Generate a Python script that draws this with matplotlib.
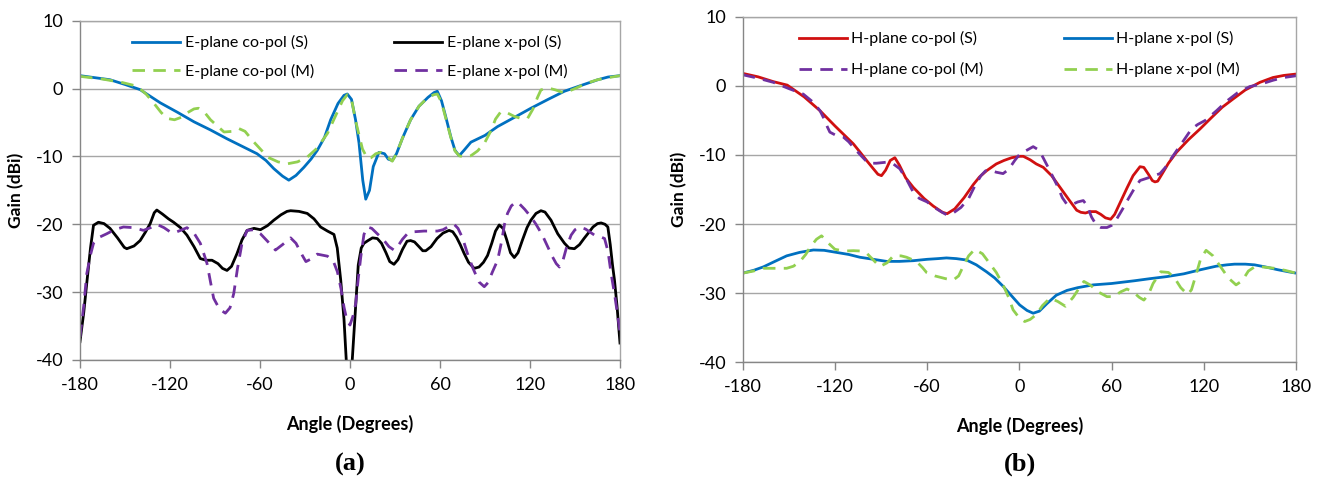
import numpy as np
import matplotlib
matplotlib.use("Agg")
import matplotlib.pyplot as plt

plt.rcParams['font.family'] = ['Lato', 'DejaVu Sans']
plt.rcParams['axes.unicode_minus'] = False

# ---- (a) E-plane ----
e_co_s_ang = [-180, -170, -160, -150, -140, -126.5, -115, -104, -93, -82, -72, -62, -56, -50.8, -45, -40.8, -36,
              -30.7, -26, -21.8, -17, -12.9, -8, -4, -1.8, 1, 3.7, 6, 8.5, 10.5, 13, 15.5, 19.3, 23, 25.5, 28.2,
              31, 35, 40.4, 46, 52, 56, 58.2, 61, 64, 67.2, 70, 72.8, 76, 80.6, 90, 98.4, 110, 120.6, 132, 142.9,
              152, 165.2, 172, 180]
e_co_s_gain = [1.9, 1.6, 1.3, 0.6, -0.15, -2.1, -3.5, -4.9, -6.1, -7.4, -8.5, -9.6, -10.6, -11.8, -12.9, -13.5,
               -12.8, -11.6, -10.4, -9.1, -7.2, -4.6, -2.2, -1.0, -0.8, -1.6, -4.6, -8, -13.5, -16.3, -15, -11.5,
               -9.4, -9.6, -10.4, -10.6, -9.6, -7.3, -4.6, -2.6, -1.3, -0.6, -0.4, -1.8, -4.3, -7.1, -9.1, -9.9,
               -9.1, -7.9, -6.9, -5.6, -4.2, -2.9, -1.6, -0.4, 0.3, 1.3, 1.7, 1.9]

e_co_m_ang = [-180, -165, -152, -142, -136, -131, -126, -122, -117, -112, -108.7, -104, -101, -97, -93, -88, -84,
              -78, -74, -70, -64, -59, -55, -48, -42, -35, -28.5, -22, -15, -10, -5, -1.8, 1, 4, 8.3, 11.6, 14,
              17.2, 20.4, 24, 28.2, 31, 35, 40.4, 46, 52, 56, 58.2, 61, 64, 67.2, 70, 72.8, 76, 80.6, 85, 89.5,
              94, 97, 100.6, 105, 109.5, 114, 118.4, 122, 125, 127.3, 131.8, 137, 142.9, 150, 158, 165, 172, 180]
e_co_m_gain = [1.8, 1.4, 0.9, 0.35, -0.8, -2.1, -3.5, -4.4, -4.6, -4.2, -3.6, -3.0, -2.9, -3.5, -4.6, -5.6, -6.4,
               -6.3, -5.9, -6.3, -7.9, -9.1, -10.1, -10.8, -11.1, -10.8, -10.1, -8.8, -6.6, -4.2, -1.8, -0.9, -1.6,
               -5, -8.9, -10.3, -10.2, -9.6, -9.4, -9.9, -10.7, -9.6, -7.3, -4.6, -2.6, -1.3, -0.9, -0.8, -2, -4.5,
               -7.2, -9.2, -9.9, -10.1, -9.9, -9.2, -8.1, -6.2, -4.5, -3.4, -3.6, -4.1, -4.4, -4.4, -3, -1.3, -0.2,
               0.1, -0.2, -0.65, 0, 0.8, 1.3, 1.6, 1.9]

e_x_s_ang = [-180, -177.5, -175.5, -173, -171, -167.7, -164, -160, -155, -150.5, -148.8, -144, -139.9, -136.5,
             -133.2, -130.5, -128.8, -125, -121, -117.6, -113, -108.7, -104, -99.8, -96, -92, -88, -85, -82, -79,
             -75.3, -72, -68.6, -64, -59.7, -55, -50.8, -46, -42, -39.6, -34, -28.5, -24, -19.6, -15, -10.7, -8.5,
             -6.2, -4, -2.5, -1, 0.5, 1.5, 3.5, 5.5, 7.5, 9.3, 12, 15, 18.2, 21, 24, 26.5, 29.3, 32, 35, 38, 40.4,
             43, 46, 48.5, 50.5, 54, 58, 62, 66, 68.5, 71, 73.5, 76.1, 79, 82.8, 86, 89, 91.7, 94.5, 97, 99.5, 102,
             104.5, 107, 109.5, 112, 115, 118, 120.6, 124, 127.3, 130, 134, 138.5, 143, 146, 149.6, 153, 156,
             158.5, 162, 165, 167.4, 170, 171.9, 173.5, 175, 176.3, 178, 180]
e_x_s_gain = [-37.3, -33, -28.7, -23.5, -20.15, -19.7, -19.9, -20.6, -22, -23.4, -23.6, -23.2, -22.4, -21.2,
              -19.9, -18.3, -17.9, -18.5, -19.2, -19.7, -20.5, -21.6, -23.3, -25.05, -25.3, -25.3, -25.8, -26.5,
              -26.8, -26.2, -24.3, -22.3, -20.9, -20.6, -20.8, -20.2, -19.4, -18.6, -18.1, -18, -18.1, -18.4,
              -19.2, -20.4, -21, -21.5, -23.5, -28.2, -34, -40, -43, -43, -40, -33, -26, -23.5, -22.8, -22.4, -22.0,
              -22.1, -22.8, -24.2, -25.5, -25.9, -25.2, -23.7, -22.5, -22.4, -22.6, -23.3, -23.9, -23.9, -23.3,
              -22.1, -21.3, -20.9, -21.1, -21.9, -23, -24.3, -25.6, -26.5, -26.3, -25.6, -24.6, -22.8, -21, -20.1,
              -20.6, -22.3, -24.2, -24.9, -24.2, -22.3, -20.5, -19.4, -18.4, -18, -18.2, -19.4, -21.4, -22.8,
              -23.5, -23.6, -23, -22.1, -21.4, -20.4, -19.9, -19.8, -20, -20.4, -23, -26, -28.2, -32, -37.5]

e_x_m_ang = [-180, -177.5, -175.5, -173, -171, -167, -162.2, -157, -151, -144, -137.7, -133, -128.8, -124, -120,
             -117.6, -113, -108.7, -104, -99.8, -97.5, -95.3, -93, -90.9, -87, -83.1, -80, -77.5, -75, -72, -68.6,
             -64, -59.7, -55, -49.7, -45, -39.6, -36, -32, -29.4, -25, -21.8, -15, -11, -8.4, -6, -4, -2, 0, 2,
             3.8, 5.5, 7.2, 9.3, 11.6, 14.5, 18.2, 22, 26, 29.3, 32, 35, 38.2, 43, 49.3, 54, 58.2, 62, 66, 69.4,
             72, 75, 78.3, 82, 86, 89.5, 92, 95, 98.4, 101, 103, 105, 107.5, 110.6, 113, 116.5, 120.6, 124, 128,
             131.8, 135, 137.5, 139.6, 142, 144.5, 147.4, 150, 153, 157, 163, 166.5, 169.7, 172, 174.1, 176.5,
             178.5, 180]
e_x_m_gain = [-36.6, -32, -27.3, -24.5, -22.8, -21.9, -21.4, -20.8, -20.4, -20.5, -20.9, -20.5, -20, -20.5, -21.1,
              -21.3, -20.9, -20.5, -21.3, -22.8, -24.3, -25.8, -28.5, -30.9, -32.5, -33.1, -32.3, -30.2, -26.5,
              -22.8, -20.9, -20.8, -21.4, -22.5, -23.8, -23, -22, -22.8, -24.5, -25.5, -25, -24.4, -24.7, -25.5,
              -27, -29.5, -32.2, -34.2, -34.85, -33.5, -31.7, -28, -24.8, -21.5, -20.4, -20.6, -21.4, -22.2, -23.3,
              -23.8, -23.2, -22.2, -21.4, -21.1, -21, -21, -21, -20.8, -20.3, -20, -20.6, -22, -24.3, -26.5, -28.5,
              -29.2, -28.6, -27, -25.3, -22.6, -20, -18.4, -17.3, -16.7, -17, -17.8, -18.9, -20, -21.5, -23.3,
              -24.8, -25.8, -26.3, -25.3, -23.3, -21.6, -20.8, -20.4, -20.7, -21.6, -21.8, -22.1, -24, -27.3,
              -30.5, -33.5, -36]

# ---- (b) H-plane ----
h_co_s_ang = [-180, -170, -160, -151, -140, -129.7, -120, -108, -104, -99.4, -95, -92, -89.7, -87, -84, -81, -78,
              -74, -69, -62, -56, -50, -47, -42, -36, -30, -26, -21.4, -15, -10, -5, 0.2, 2.6, 7, 11, 15.6, 21,
              26.5, 32, 37.3, 40, 43, 46, 49.8, 53, 56, 59.4, 62, 66, 70, 74, 78.5, 81, 84, 86.5, 88.2, 90, 93, 97,
              102.3, 110, 117.5, 125, 132, 139.1, 147, 156.5, 165, 172, 180]
h_co_s_gain = [1.8, 1.3, 0.6, 0.1, -1.6, -3.6, -5.8, -8.4, -9.5, -10.8, -12, -12.8, -13, -12.2, -10.8, -10.4,
               -11.5, -13.3, -14.7, -16.3, -17.4, -18.3, -18.5, -17.8, -16.2, -14.3, -13.2, -12.3, -11.3, -10.8,
               -10.4, -10.2, -10.2, -10.7, -11.3, -11.8, -13, -14.7, -16.4, -18, -18.3, -18.4, -18.2, -18.2, -18.6,
               -19.1, -19.3, -18.6, -16.7, -14.8, -13, -11.7, -11.8, -12.8, -13.7, -13.9, -13.8, -12.7, -11.2,
               -9.6, -7.8, -6.25, -4.6, -3.1, -1.9, -0.6, 0.5, 1.2, 1.5, 1.7]

h_co_m_ang = [-180, -170, -160, -150, -140.6, -134, -129.7, -127, -125, -123.3, -119, -114.6, -111, -108, -103,
              -98.3, -93, -86.4, -82, -77.8, -73, -69, -65, -60, -56, -51, -47, -43, -38, -33, -29, -25, -22, -19.3,
              -15, -10.6, -7, -3, 0.2, 5, 9, 12, 15, 19.9, 25, 28, 30.8, 34, 38, 41.6, 44, 47, 50, 53, 57, 60, 63,
              67, 71, 75, 78.5, 84, 91.5, 95, 100.1, 106, 112, 116, 121, 128.3, 135, 142, 150, 156.5, 165, 172, 180]
h_co_m_gain = [1.6, 1.1, 0.5, -0.4, -1.2, -2.4, -3.6, -4.8, -5.9, -6.7, -7.2, -7.4, -8.1, -8.9, -10.1, -11.2,
               -11.2, -11.05, -11.3, -12, -13.7, -15.4, -16.3, -16.8, -17.5, -18.2, -18.7, -18.4, -17.6, -16.3,
               -14.5, -13, -12.3, -12.2, -12.5, -12.7, -12.1, -10.8, -9.9, -9.3, -8.8, -9.2, -10.2, -12.3, -14.6,
               -16.2, -17.1, -17.2, -16.8, -16.6, -17.3, -19, -20.1, -20.5, -20.5, -20.2, -19.4, -17.9, -16.3,
               -14.8, -13.7, -13.3, -12.7, -11.8, -10.1, -8.2, -6.25, -5.6, -5.0, -3.6, -2.2, -1, -0.1, 0.2, 0.8,
               1.2, 1.45]

h_x_s_ang = [-180, -173, -166.6, -160, -151.4, -143, -134, -127, -119, -111, -103.8, -95, -86.4, -78, -69, -60,
             -53, -47.4, -41, -34.4, -28, -21.4, -16, -10.6, -5, 0.2, 5, 9, 13, 18, 24, 31, 38, 48, 60, 75, 85, 96,
             107, 118, 128, 135, 140, 147, 153, 160, 168, 175, 180]
h_x_s_gain = [-27.1, -26.7, -26.2, -25.5, -24.6, -24.1, -23.75, -23.8, -24.1, -24.4, -24.8, -25.1, -25.4, -25.4,
              -25.3, -25.1, -25, -24.9, -25, -25.2, -25.9, -26.9, -27.8, -29.0, -30.4, -31.7, -32.5, -32.9, -32.6,
              -31.5, -30.3, -29.6, -29.2, -28.8, -28.6, -28.2, -27.9, -27.6, -27.2, -26.6, -26.1, -25.9, -25.8,
              -25.8, -25.9, -26.2, -26.6, -26.9, -27.1]

h_x_m_ang = [-180, -173, -166.6, -160, -151.4, -147, -142.7, -139, -136, -132, -128.7, -125, -120, -114, -108,
             -103, -99.4, -95, -90.8, -86, -82, -77, -73.4, -67, -63, -60.4, -55, -48, -43, -39.5, -36.6, -33, -29,
             -24, -19.3, -15, -10.6, -7, -4.1, 0, 3.5, 7, 11, 15, 20, 25, 30, 35, 40, 42, 46, 52, 57, 61.5, 66, 70,
             74, 78, 81, 84, 87, 92, 97, 101, 105, 109.5, 112, 115, 118, 121.5, 126, 131, 136, 141, 145, 149, 153,
             158, 166, 173, 180]
h_x_m_gain = [-27.1, -26.8, -26.4, -26.4, -26.4, -26.1, -25.4, -24.4, -23.3, -22.2, -21.7, -22.6, -23.65, -23.9,
              -23.85, -23.9, -24.2, -25.2, -26.15, -25.6, -24.6, -24.6, -24.8, -25.4, -26.3, -27, -27.5, -27.9,
              -28.1, -27.5, -26.15, -24.6, -23.65, -24.3, -25.7, -27, -28.8, -30.6, -32.4, -33.6, -34.1, -33.8,
              -33.1, -31.8, -30.7, -31.2, -31.9, -30.6, -28.9, -28.3, -28.8, -29.9, -30.5, -30.5, -29.8, -29.4,
              -29.8, -30.6, -31, -30.2, -28.6, -26.9, -27, -27.8, -29.2, -30.2, -29.5, -27.3, -25, -23.8, -24.6,
              -26.2, -27.8, -28.8, -28.2, -26.8, -26.2, -26.2, -26.4, -26.7, -27.1]

blue = '#0070C0'
green = '#92D050'
purple = '#7030A0'
red = '#D01010'
lw = 2.0
dash = (0, (4.5, 3))

fig = plt.figure(figsize=(13.2, 4.8), dpi=100)
ax1 = fig.add_axes([80 / 1320, 1 - 360 / 480, 540 / 1320, 339.3 / 480])
ax2 = fig.add_axes([742.7 / 1320, 1 - 362.3 / 480, 553.3 / 1320, 345.6 / 480])

a1, = ax1.plot(e_co_s_ang, e_co_s_gain, color=blue, lw=lw, label='E-plane co-pol (S)')
a3, = ax1.plot(e_x_s_ang, e_x_s_gain, color='black', lw=lw, label='E-plane x-pol (S)')
a2, = ax1.plot(e_co_m_ang, e_co_m_gain, color=green, lw=lw, ls=dash, label='E-plane co-pol (M)')
a4, = ax1.plot(e_x_m_ang, e_x_m_gain, color=purple, lw=lw, ls=dash, label='E-plane x-pol (M)')

b1, = ax2.plot(h_co_s_ang, h_co_s_gain, color=red, lw=lw, label='H-plane co-pol (S)')
b3, = ax2.plot(h_x_s_ang, h_x_s_gain, color=blue, lw=lw, label='H-plane x-pol (S)')
b2, = ax2.plot(h_co_m_ang, h_co_m_gain, color=purple, lw=lw, ls=dash, label='H-plane co-pol (M)')
b4, = ax2.plot(h_x_m_ang, h_x_m_gain, color=green, lw=lw, ls=dash, label='H-plane x-pol (M)')

for ax, handles, lsp in [(ax1, [a1, a2, a3, a4], 0.85), (ax2, [b1, b2, b3, b4], 1.0)]:
    ax.set_xlim(-180, 180)
    ax.set_ylim(-40, 10)
    ax.set_xticks(np.arange(-180, 181, 60))
    ax.set_yticks(np.arange(-40, 11, 10))
    ax.grid(True, axis='y', color='#A6A6A6', lw=1.0)
    ax.set_axisbelow(True)
    for s in ax.spines.values():
        s.set_color('#A6A6A6')
        s.set_linewidth(1.0)
    ax.spines['left'].set_color('#868686')
    ax.spines['bottom'].set_color('#868686')
    ax.tick_params(direction='out', length=6, width=1, color='#868686', labelsize=13, pad=6)
    ax.set_xlabel('Angle (Degrees)', fontsize=13, fontweight='bold', labelpad=16)
    ax.set_ylabel('Gain (dBi)', fontsize=12.5, fontweight='bold', labelpad=8)
    ax.legend(handles=handles, ncol=2, loc='upper center', bbox_to_anchor=(0.5, 1.0), frameon=False,
              fontsize=11.5, handlelength=3.0, handletextpad=0.3, columnspacing=5.0, labelspacing=lsp)

fig.text(350 / 1320, 1 - 464 / 480, '(a)', ha='center', va='center', fontsize=19, fontweight='bold',
         family='Liberation Serif')
fig.text(1020 / 1320, 1 - 464 / 480, '(b)', ha='center', va='center', fontsize=19, fontweight='bold',
         family='Liberation Serif')

fig.savefig('out.png', dpi=100)
